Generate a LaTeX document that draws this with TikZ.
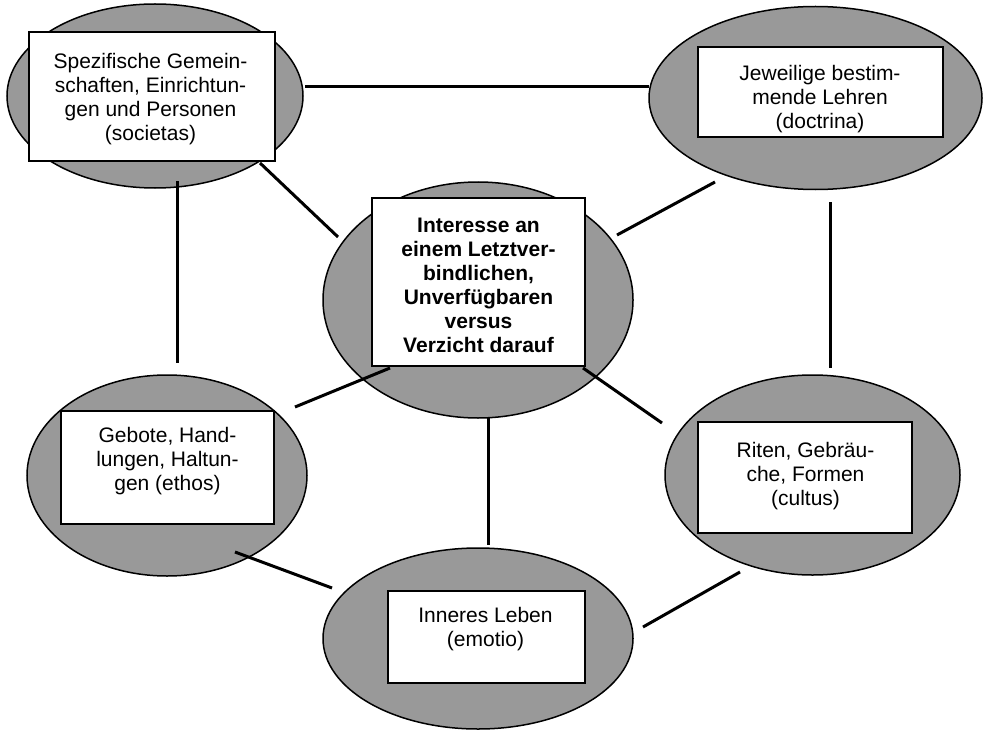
\documentclass[tikz,border=0pt]{standalone}
\usepackage{fontspec}
\setmainfont{Liberation Sans}
\usetikzlibrary{shapes.geometric}
\definecolor{ovalgray}{RGB}{153,153,153}
\begin{document}
\begin{tikzpicture}[x=1pt,y=-1pt,
  oval/.style={ellipse, draw=black, line width=1.5pt, fill=ovalgray, inner sep=0pt},
  card/.style={rectangle, draw=black, line width=2pt, fill=white, inner sep=0pt},
  lbl/.style={align=center, font=\fontsize{21}{24}\selectfont, inner sep=0pt},
  link/.style={line width=3pt, draw=black}]
\useasboundingbox[fill=white] (0,0) rectangle (984,730);
% ellipses
\node[oval, minimum width=296pt, minimum height=184pt] (e1) at (155,96) {};
\node[oval, minimum width=333pt, minimum height=183pt] (e2) at (815.5,98) {};
\node[oval, minimum width=310pt, minimum height=236pt] (e3) at (478,300) {};
\node[oval, minimum width=280pt, minimum height=201pt] (e4) at (167,475.5) {};
\node[oval, minimum width=295pt, minimum height=200pt] (e5) at (812.5,475) {};
\node[oval, minimum width=310pt, minimum height=181pt] (e6) at (478,638.5) {};
% boxes
\node[card, minimum width=246pt, minimum height=129pt] (b1) at (152,96.5) {};
\node[card, minimum width=245pt, minimum height=90pt] (b2) at (820.5,92) {};
\node[card, minimum width=213pt, minimum height=168pt] (b3) at (478.5,282) {};
\node[card, minimum width=213pt, minimum height=113pt] (b4) at (167.5,467.5) {};
\node[card, minimum width=214pt, minimum height=111pt] (b5) at (805,477.5) {};
\node[card, minimum width=197pt, minimum height=92pt] (b6) at (486.5,637) {};
% texts
\node[lbl] (t1) at (150.5,99.5) {Spezifische Gemein-\\schaften, Einrichtun-\\gen und Personen\\(societas)};
\node[lbl] (t2) at (820,99) {Jeweilige bestim-\\mende Lehren\\(doctrina)};
\node[lbl, font=\fontsize{21}{24}\selectfont\bfseries] (t3) at (478.5,285) {Interesse an\\einem Letztver-\\bindlichen,\\Unverfügbaren\\versus\\Verzicht darauf};
\node[lbl] (t4) at (167.5,461) {Gebote, Hand-\\lungen, Haltun-\\gen (ethos)};
\node[lbl] (t5) at (805.5,476) {Riten, Gebräu-\\che, Formen\\(cultus)};
\node[lbl] (t6) at (485.5,629.5) {Inneres Leben\\(emotio)};
% connector end points
\coordinate (a12) at (305,87);   \coordinate (b12) at (649,87);
\coordinate (a14) at (177,181);  \coordinate (b14) at (177,363);
\coordinate (a13) at (260,163);  \coordinate (b13) at (338,237);
\coordinate (a23) at (715,182);  \coordinate (b23) at (617,235);
\coordinate (a25) at (830,202);  \coordinate (b25) at (830,368);
\coordinate (a43) at (295,407);  \coordinate (b43) at (390,368);
\coordinate (a35) at (583,368);  \coordinate (b35) at (662,423);
\coordinate (a36) at (488,418);  \coordinate (b36) at (488,545);
\coordinate (a46) at (235,552);  \coordinate (b46) at (332,588);
\coordinate (a56) at (740,572);  \coordinate (b56) at (643,627);
% connectors
\draw[link] (a12) -- (b12);
\draw[link] (a14) -- (b14);
\draw[link] (a13) -- (b13);
\draw[link] (a23) -- (b23);
\draw[link] (a25) -- (b25);
\draw[link] (a43) -- (b43);
\draw[link] (a35) -- (b35);
\draw[link] (a36) -- (b36);
\draw[link] (a46) -- (b46);
\draw[link] (a56) -- (b56);
\end{tikzpicture}
\end{document}
